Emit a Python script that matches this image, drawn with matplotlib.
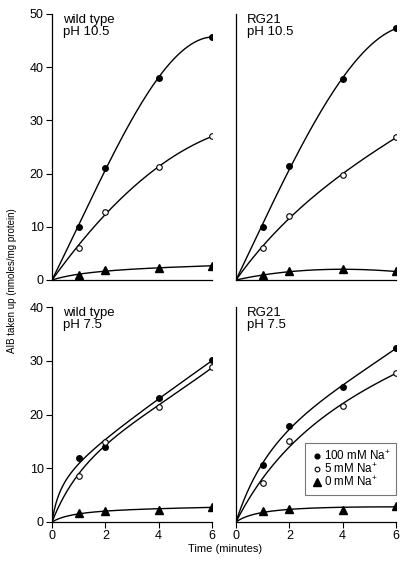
import numpy as np
import matplotlib
matplotlib.use("Agg")
import matplotlib.pyplot as plt

plt.rcParams['font.family'] = ['Liberation Sans', 'DejaVu Sans']
plt.rcParams['mathtext.default'] = 'regular'

time = [1, 2, 4, 6]

wt105_100 = [10.0, 21.0, 38.0, 45.7]
wt105_5 = [6.0, 12.8, 21.2, 27.0]
wt105_0 = [1.0, 1.8, 2.2, 2.7]

rg105_100 = [9.9, 21.4, 37.8, 47.3]
rg105_5 = [6.0, 12.0, 19.8, 26.8]
rg105_0 = [0.9, 1.6, 2.0, 1.6]

wt75_100 = [12.0, 14.0, 23.0, 30.2]
wt75_5 = [8.6, 14.8, 21.4, 28.8]
wt75_0 = [1.7, 2.0, 2.3, 2.8]

rg75_100 = [10.6, 17.8, 25.1, 32.4]
rg75_5 = [7.3, 15.0, 21.5, 27.8]
rg75_0 = [2.1, 2.4, 2.3, 3.0]

titles = ["wild type\npH 10.5", "RG21\npH 10.5", "wild type\npH 7.5", "RG21\npH 7.5"]
legend_labels = ["100 mM Na$^{+}$", "5 mM Na$^{+}$", "0 mM Na$^{+}$"]
ylabel = "AIB taken up (nmoles/mg protein)"
xlabel = "Time (minutes)"
xticks = [0, 2, 4, 6]
yticks_top = [0, 10, 20, 30, 40, 50]
yticks_bot = [0, 10, 20, 30, 40]


def fit_curve(t, y, tt, kmin=0.35, poly=False):
    """Least-squares smooth curve through the origin fitted to the points."""
    t = np.asarray(t, float)
    y = np.asarray(y, float)
    if poly:
        A = np.column_stack([t, t ** 2, t ** 3])
        coef, *_ = np.linalg.lstsq(A, y, rcond=None)
        return np.column_stack([tt, tt ** 2, tt ** 3]) @ coef
    best = None
    for K in np.logspace(np.log10(kmin), 2.5, 300):
        for cols in ([0, 1], [0, 2], [0], [1, 2]):
            A_full = np.column_stack([t / (K + t), t, t ** 2])
            A = A_full[:, cols]
            coef, *_ = np.linalg.lstsq(A, y, rcond=None)
            if cols[0] == 0 and coef[0] < 0:
                continue
            if 1 in cols and coef[cols.index(1)] < 0:
                continue
            r = np.sum((A @ coef - y) ** 2)
            if best is None or r < best[0]:
                best = (r, K, cols, coef)
    _, K, cols, coef = best
    B = np.column_stack([tt / (K + tt), tt, tt ** 2])[:, cols]
    return B @ coef


W, H = 409, 562
fig = plt.figure(figsize=(W / 100, H / 100), dpi=100)


def ax_at(x0, x1, y0, y1):
    return fig.add_axes([x0 / W, 1 - y1 / H, (x1 - x0) / W, (y1 - y0) / H])


axs = [ax_at(52, 212, 14, 280), ax_at(236, 396, 14, 280),
       ax_at(52, 212, 307, 522), ax_at(236, 396, 307, 522)]

panels = [(wt105_100, wt105_5, wt105_0, 50),
          (rg105_100, rg105_5, rg105_0, 50),
          (wt75_100, wt75_5, wt75_0, 40),
          (rg75_100, rg75_5, rg75_0, 40)]

tt = np.linspace(0, 6, 300)
for i, (ax, (f, o, tr, ymax)) in enumerate(zip(axs, panels)):
    top = i < 2
    ax.plot(tt, fit_curve(time, f, tt, 0.35, poly=top), color='black', lw=1.0, zorder=2)
    ax.plot(tt, fit_curve(time, o, tt, 3.0 if top else 0.35), color='black', lw=1.0, zorder=2)
    ax.plot(tt, fit_curve(time, tr, tt, 1.0), color='black', lw=1.0, zorder=2)
    h1, = ax.plot(time, f, 'o', ms=4, mfc='black', mec='black', zorder=3)
    h2, = ax.plot(time, o, 'o', ms=4, mfc='white', mec='black', mew=0.8, zorder=3)
    h3, = ax.plot(time, tr, '^', ms=6, mfc='black', mec='black', zorder=3)
    ax.set_xlim(0, 6)
    ax.set_ylim(0, ymax)
    for sp in ('top', 'right'):
        ax.spines[sp].set_visible(False)
    ax.spines['left'].set_linewidth(0.9)
    ax.spines['bottom'].set_linewidth(0.9)
    ax.text(0.4, ymax, titles[i], fontsize=9.5, va='top', ha='left', linespacing=1.0)
    ax.tick_params(direction='out', length=4, width=0.8, labelsize=9, pad=2)
    if i % 2 == 0:
        ax.set_yticks(yticks_top if ymax == 50 else yticks_bot)
    else:
        ax.set_yticks([])
    if i >= 2:
        ax.set_xticks(xticks)
    else:
        ax.set_xticks([])
    if i == 3:
        leg = ax.legend([h1, h2, h3], legend_labels, loc='lower right',
                        bbox_to_anchor=(1.0, 0.126), borderaxespad=0.0,
                        frameon=True, fancybox=False,
                        edgecolor='#555555', fontsize=8.4, handletextpad=0.1,
                        handlelength=1.0, borderpad=0.5, labelspacing=-0.05,
                        markerscale=0.85)
        leg.get_frame().set_linewidth(0.8)

fig.text(12 / W, 1 - 281 / H, ylabel, rotation=90, ha='center', va='center', fontsize=7)
fig.text(225 / W, 1 - 549 / H, xlabel, ha='center', va='center', fontsize=8)

fig.savefig("out.png", dpi=100)
